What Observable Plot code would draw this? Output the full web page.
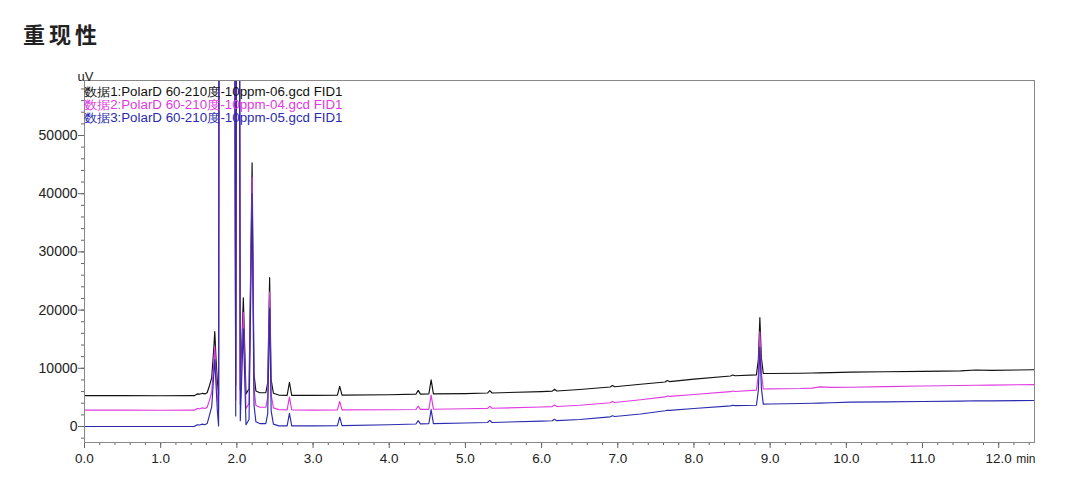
<!DOCTYPE html>
<html><head><meta charset="utf-8">
<script src="https://cdn.jsdelivr.net/npm/d3@7"></script>
<script src="https://cdn.jsdelivr.net/npm/@observablehq/plot@0.6"></script>
<style>
body{margin:0;background:#fff;}
#title{height:60px;box-sizing:border-box;padding:18px 0 0 23px;font:700 22px "Noto Sans CJK SC",sans-serif;letter-spacing:4px;color:#222;line-height:30px}
#chart svg{display:block}
</style></head><body>
<div id="title">重现性</div>
<div id="chart"></div>
<script>
// retention time (min)
const times = [0, 0.5, 1.0, 1.44, 1.48, 1.51, 1.55, 1.58, 1.61, 1.64, 1.67, 1.695, 1.71, 1.725, 1.745, 1.76, 1.775, 1.95, 1.985, 2.015,
  2.045, 2.085, 2.12, 2.16, 2.2, 2.225, 2.25, 2.3, 2.38, 2.405, 2.43, 2.45, 2.48, 2.55, 2.66, 2.69, 2.72, 3.0, 3.32, 3.35,
  3.38, 4.0, 4.35, 4.38, 4.41, 4.52, 4.55, 4.58, 5.0, 5.29, 5.32, 5.35, 6.0, 6.14, 6.17, 6.2, 6.5, 6.9, 6.93, 6.96,
  7.3, 7.62, 7.65, 7.68, 8.0, 8.48, 8.51, 8.54, 8.82, 8.845, 8.865, 8.885, 8.91, 9.0, 9.4, 9.55, 9.65, 9.8, 10.05, 10.5,
  11.0, 11.5, 11.7, 11.9, 12.47];
// 数据1 (uV)
const data1 = [5300, 5300, 5280, 5300, 5600, 5550, 5700, 5600, 5800, 7000, 8400, 13000, 16300, 12000, 7500, 5300, 200000, 200000, 7100, 200000,
  6300, 22100, 5600, 6500, 45300, 9000, 6100, 5800, 5800, 7500, 25600, 8000, 5700, 5400, 5350, 7600, 5350, 5350, 5400, 6900,
  5400, 5450, 5550, 6200, 5560, 5580, 8000, 5600, 5650, 5750, 6150, 5760, 6000, 6080, 6400, 6100, 6350, 6780, 7050, 6830,
  7250, 7650, 7900, 7720, 8150, 8680, 8850, 8720, 8880, 11500, 18700, 11800, 9100, 9100, 9150, 9200, 9220, 9250, 9330, 9400,
  9480, 9560, 9700, 9650, 9750];
// 数据2 (uV)
const data2 = [2800, 2800, 2790, 2800, 3100, 3050, 3200, 3100, 3300, 4500, 5900, 10500, 13800, 9500, 5000, 2800, 200000, 200000, 4600, 200000,
  3800, 19600, 3100, 4000, 42800, 6500, 3600, 3300, 3300, 5000, 23100, 5500, 3200, 2900, 2850, 5050, 2850, 2800, 2850, 4300,
  2850, 2870, 2920, 3500, 2930, 2950, 5400, 2970, 3050, 3120, 3450, 3130, 3350, 3420, 3700, 3440, 3650, 4080, 4300, 4130,
  4600, 5080, 5250, 5170, 5500, 5980, 6100, 6020, 6250, 8800, 16300, 9200, 6450, 6460, 6530, 6600, 6800, 6720, 6750, 6850,
  6950, 7050, 7080, 7120, 7200];
// 数据3 (uV)
const data3 = [0, 0, 0, 0, 300, 250, 400, 300, 500, 1900, 3400, 8500, 11500, 7500, 2500, 100, 200000, 200000, 1800, 200000,
  1000, 16800, 300, 1200, 40000, 3700, 800, 500, 500, 2200, 20300, 2700, 400, 100, 100, 2250, 100, 100, 150, 1600,
  150, 300, 430, 1000, 440, 470, 2900, 490, 600, 680, 1050, 690, 920, 980, 1250, 1000, 1200, 1660, 1850, 1710,
  2150, 2700, 2800, 2760, 3100, 3550, 3650, 3580, 3650, 6200, 13600, 6600, 3850, 3860, 3950, 4000, 4020, 4080, 4180, 4230,
  4300, 4350, 4420, 4400, 4470];

const seriesNames = ["数据1:PolarD 60-210度-10ppm-06.gcd FID1", "数据2:PolarD 60-210度-10ppm-04.gcd FID1", "数据3:PolarD 60-210度-10ppm-05.gcd FID1"];
const seriesColors = ["#111111", "#e03ae0", "#2b2bb0"];
const xMajorTicks = [0, 1, 2, 3, 4, 5, 6, 7, 8, 9, 10, 11, 12];
const yMajorTicks = [0, 10000, 20000, 30000, 40000, 50000];
const xUnit = "min";
const yUnit = "uV";

const seriesValues = [data1, data2, data3];
const rows = seriesValues.flatMap((vals, i) => times.map((t, j) => ({t, v: vals[j], s: i})));
const xMinor = d3.range(0, 12.47, 0.2);
const yMinor = d3.range(-2000, 59001, 2000);

const chart = Plot.plot({
  width: 1080, height: 418,
  marginTop: 20, marginBottom: 36, marginLeft: 84, marginRight: 46,
  x: {domain: [0, 12.47], label: null},
  y: {domain: [-2750, 59450], label: null},
  style: {fontFamily: "'Liberation Sans', Arial, sans-serif", fontSize: "14px", color: "#222", background: "#fff"},
  marks: [
    Plot.axisX({ticks: xMinor, tickSize: 3, tickFormat: () => "", stroke: "#666"}),
    Plot.axisX({ticks: xMajorTicks, tickSize: 6, tickPadding: 5, tickFormat: d => d.toFixed(1), stroke: "#666", fill: "#222", fontSize: 13.5}),
    Plot.axisY({ticks: yMinor, tickSize: 3, tickFormat: () => "", stroke: "#666"}),
    Plot.axisY({ticks: yMajorTicks, tickSize: 6, tickPadding: 1, tickFormat: "d", stroke: "#666", fill: "#222"}),
    ...seriesValues.map((_, i) => Plot.line(rows.filter(r => r.s === i), {x: "t", y: "v", stroke: seriesColors[i], strokeWidth: 1.15, clip: true})),
    Plot.frame({stroke: "#888"}),
    ...seriesNames.map((name, i) => Plot.text([name], {text: d => d, frameAnchor: "top-left", dx: -1, dy: 6.5 + i * 13, textAnchor: "start", fill: seriesColors[i], fontSize: 12, className: "legend-text"})),
    Plot.text([yUnit], {text: d => d, frameAnchor: "top-left", dx: -7, dy: -9, textAnchor: "start", fill: "#222", fontSize: 13}),
    Plot.text([xUnit], {text: d => d, frameAnchor: "bottom-right", dx: 1, dy: 20, textAnchor: "end", fill: "#222", fontSize: 12})
  ]
});
// stretch legend lines to the reference's width
chart.querySelectorAll(".legend-text text").forEach(t => {
  t.setAttribute("textLength", "259");
  t.setAttribute("lengthAdjust", "spacingAndGlyphs");
});
document.getElementById("chart").appendChild(chart);
</script>
</body></html>
